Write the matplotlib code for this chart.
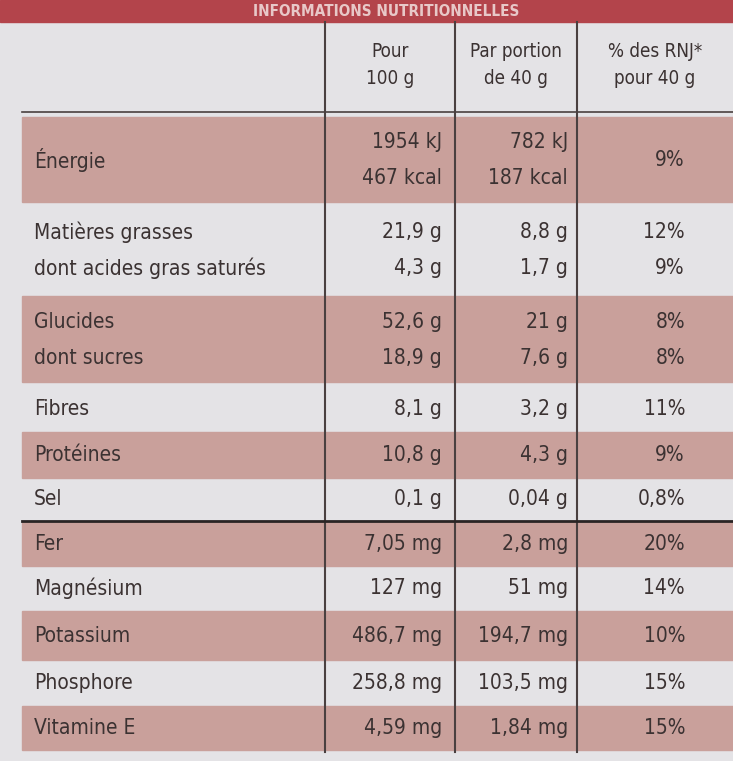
import matplotlib
matplotlib.use("Agg")
import matplotlib.pyplot as plt
from matplotlib.patches import Rectangle
from matplotlib import font_manager

names = {f.name for f in font_manager.fontManager.ttflist}
FONT = "Liberation Sans Narrow" if "Liberation Sans Narrow" in names else "DejaVu Sans"
STRETCH = "condensed"

title = "INFORMATIONS NUTRITIONNELLES"
headers = ["Pour\n100 g", "Par portion\nde 40 g", "% des RNJ*\npour 40 g"]
labels = [["Énergie"], ["Matières grasses", "dont acides gras saturés"],
          ["Glucides", "dont sucres"], ["Fibres"], ["Protéines"], ["Sel"],
          ["Fer"], ["Magnésium"], ["Potassium"], ["Phosphore"], ["Vitamine E"]]
per100 = [["1954 kJ", "467 kcal"], ["21,9 g", "4,3 g"], ["52,6 g", "18,9 g"],
          ["8,1 g"], ["10,8 g"], ["0,1 g"], ["7,05 mg"], ["127 mg"],
          ["486,7 mg"], ["258,8 mg"], ["4,59 mg"]]
perportion = [["782 kJ", "187 kcal"], ["8,8 g", "1,7 g"], ["21 g", "7,6 g"],
              ["3,2 g"], ["4,3 g"], ["0,04 g"], ["2,8 mg"], ["51 mg"],
              ["194,7 mg"], ["103,5 mg"], ["1,84 mg"]]
rnj = [["9%"], ["12%", "9%"], ["8%", "8%"], ["11%"], ["9%"], ["0,8%"],
       ["20%"], ["14%"], ["10%"], ["15%"], ["15%"]]
shaded = [True, False, True, False, True, False, True, False, True, False, True]

# layout (pixels)
W, H = 733, 761
row_y = [(117, 202), (207, 292), (296, 382), (386, 432), (432, 478), (478, 520),
         (522, 566), (566, 611), (611, 660), (660, 706), (706, 750)]
col_x = [0, 325, 455, 577, 733]
SH = "#c9a09b"
BG = "#e4e3e6"
TXT = "#3b3232"

fig = plt.figure(figsize=(W / 100, H / 100), dpi=100)
ax = fig.add_axes([0, 0, 1, 1])
ax.set_xlim(0, W); ax.set_ylim(H, 0); ax.axis("off")
ax.add_patch(Rectangle((0, 0), W, H, color=BG))
ax.add_patch(Rectangle((0, 0), W, 22, color="#b3444b"))
ax.text(W / 2 + 20, 11, title, color="#e8c8c8", fontsize=11, fontweight="bold",
        ha="center", va="center", family=FONT, fontstretch=STRETCH)

for (y0, y1), s in zip(row_y, shaded):
    if s:
        ax.add_patch(Rectangle((22, y0), W - 22, y1 - y0, color=SH))

for x in col_x[1:4]:
    ax.plot([x, x], [22, 752], color="#4a4040", lw=1.5)
ax.plot([22, W], [112, 112], color="#4a4040", lw=1.2)
ax.plot([22, W], [521, 521], color="#2a2424", lw=2)

for i, h in enumerate(headers):
    ax.text((col_x[i + 1] + col_x[i + 2]) / 2, 65, h, ha="center", va="center",
            fontsize=13.5, color=TXT, family=FONT, fontstretch=STRETCH, linespacing=1.5)

def put(lines, x, y0, y1, ha):
    n = len(lines)
    if n == 1:
        ys = [(y0 + y1) / 2]
    else:
        ys = [y0 + (y1 - y0) * 0.3, y0 + (y1 - y0) * 0.72]
    for t, y in zip(lines, ys):
        ax.text(x, y, t, ha=ha, va="center", fontsize=15, color=TXT,
                family=FONT, fontstretch=STRETCH)

for i, (y0, y1) in enumerate(row_y):
    put(labels[i], 34, y0, y1, "left")
    put(per100[i], 442, y0, y1, "right")
    put(perportion[i], 568, y0, y1, "right")
    put(rnj[i], 685, y0, y1, "right")

fig.savefig("out.png", dpi=100)
